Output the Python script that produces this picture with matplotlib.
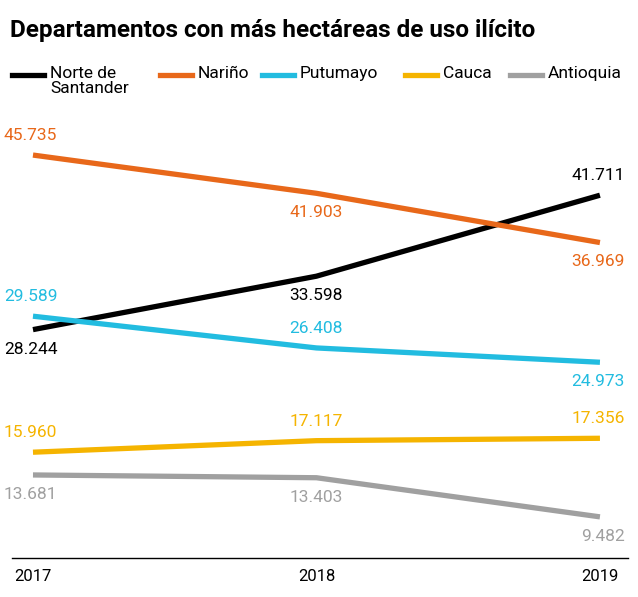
import matplotlib.pyplot as plt
from matplotlib.lines import Line2D

plt.rcParams['font.family'] = ['Roboto', 'DejaVu Sans']

years = [2017, 2018, 2019]
names = ["Norte de\nSantander", "Nariño", "Putumayo", "Cauca", "Antioquia"]
norte = [28244, 33598, 41711]
narino = [45735, 41903, 36969]
putumayo = [29589, 26408, 24973]
cauca = [15960, 17117, 17356]
antioquia = [13681, 13403, 9482]
colors = ["#000000", "#E8681A", "#22BCE0", "#F5B400", "#A0A0A0"]
series = [norte, narino, putumayo, cauca, antioquia]
# label side per point: +1 above, -1 below
sides = [[-1, -1, 1], [1, -1, -1], [1, 1, -1], [1, 1, 1], [-1, -1, -1]]

fig = plt.figure(figsize=(6.38, 5.97), dpi=100)
ax = fig.add_axes([12/638, 39/597, 616/638, 448/597])
for vals, c, sd in zip(series, colors, sides):
    ax.plot(years, vals, color=c, lw=3.8, solid_capstyle='butt')
    for i, (x, v, s) in enumerate(zip(years, vals, sd)):
        ha = ['left', 'center', 'right'][i]
        dx = [-21, 0, 18][i]
        ax.annotate(f"{v:,}".replace(",", "."), (x, v), xytext=(dx, 14 * s),
                    textcoords='offset points', ha=ha, va='center',
                    color=c, fontsize=12.5)

ax.set_xlim(2016.926, 2019.099)
ax.set_ylim(5360, 50250)
ax.set_xticks(years)
ax.set_xticklabels([str(y) for y in years], fontsize=12)
ax.set_yticks([])
for s in ['left', 'right', 'top']:
    ax.spines[s].set_visible(False)
ax.spines['bottom'].set_linewidth(1)
ax.tick_params(axis='x', length=0, pad=8)

fig.text(10/638, 1 - 31/597, "Departamentos con más hectáreas de uso ilícito",
         fontsize=17.5, fontweight='bold', va='center', ha='left')

lx = [12, 160, 262, 405, 510]
for x, n, c in zip(lx, names, colors):
    fig.add_artist(Line2D([x/638, (x+32)/638], [1-75/597]*2, color=c, lw=3.8,
                          transform=fig.transFigure))
    fig.text((x+38)/638, 1-66/597, n, fontsize=12.5, va='top', ha='left',
             linespacing=1.0)

fig.savefig("out.png", dpi=100)
